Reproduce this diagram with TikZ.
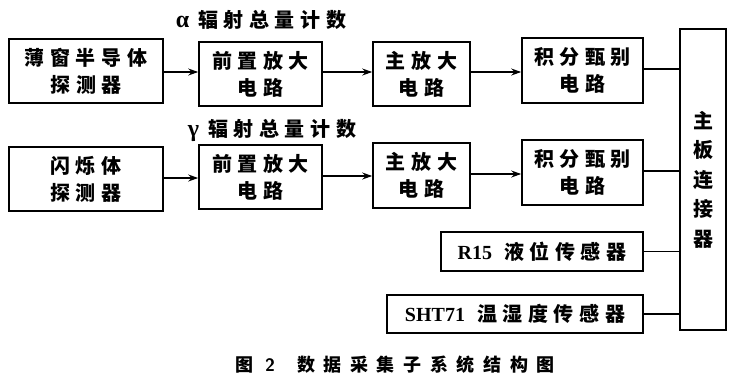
\documentclass[tikz,border=0pt]{standalone}
\usepackage{fontspec}
\setmainfont{Liberation Serif}
\newfontfamily\cjk{Noto Sans CJK SC}[LetterSpace=28]
\newfontfamily\capfont{Noto Sans CJK SC}[LetterSpace=48]
\usetikzlibrary{arrows.meta}

\tikzset{
    blk/.style={draw, line width=1.6pt, inner sep=0pt, align=center,
        font=\cjk\bfseries\fontsize{20}{27}\selectfont},
    lbl/.style={inner sep=0pt, font=\cjk\bfseries\fontsize{20}{22}\selectfont},
    sig/.style={line width=1.4pt, -{Stealth[length=10pt, width=7pt]}},
    bus/.style={line width=1.4pt}
}

\begin{document}
\begin{tikzpicture}[x=1pt, y=-1pt]
    \useasboundingbox (0,0) rectangle (739,384);

    % alpha channel
    \node[lbl] (alab) at (261,20) {{\rmfamily\bfseries\fontsize{24}{24}\selectfont α}\hspace{9pt}辐射总量计数};
    \node[blk, minimum width=154pt, minimum height=64pt] (det1) at (86,71) {薄窗半导体\\探测器};
    \node[blk, minimum width=123pt, minimum height=64pt] (pre1) at (260.5,74) {前置放大\\电路};
    \node[blk, minimum width=97pt, minimum height=64pt] (amp1) at (421.5,74) {主放大\\电路};
    \node[blk, minimum width=121pt, minimum height=65pt] (dis1) at (582.5,70.5) {积分甄别\\电路};

    % gamma channel
    \node[lbl] (glab) at (272,130) {{\rmfamily\bfseries\fontsize{24}{24}\selectfont γ}\hspace{9pt}辐射总量计数};
    \node[blk, minimum width=154pt, minimum height=64pt] (det2) at (86,179) {闪烁体\\探测器};
    \node[blk, minimum width=123pt, minimum height=64pt] (pre2) at (260.5,177) {前置放大\\电路};
    \node[blk, minimum width=97pt, minimum height=65pt] (amp2) at (421.5,175.5) {主放大\\电路};
    \node[blk, minimum width=121pt, minimum height=65pt] (dis2) at (582.5,172.5) {积分甄别\\电路};

    % sensors and connector
    \node[blk, minimum width=202pt, minimum height=39pt] (lvl) at (542,251.5) {{\rmfamily\bfseries R15}\hspace{12pt}液位传感器};
    \node[blk, minimum width=256pt, minimum height=38pt] (hum) at (515,314) {{\rmfamily\bfseries SHT71}\hspace{12pt}温湿度传感器};
    \node[blk, minimum width=46pt, minimum height=301pt, font=\cjk\bfseries\fontsize{20}{29.5}\selectfont] (conn) at (703,179.5) {主\\板\\连\\接\\器};

    % signal flow
    \draw[sig] (det1.east |- 0,72) -- (pre1.west |- 0,72);
    \draw[sig] (pre1.east |- 0,72) -- (amp1.west |- 0,72);
    \draw[sig] (amp1.east |- 0,72) -- (dis1.west |- 0,72);
    \draw[sig] (det2.east |- 0,178) -- (pre2.west |- 0,178);
    \draw[sig] (pre2.east |- 0,176) -- (amp2.west |- 0,176);
    \draw[sig] (amp2.east |- 0,174) -- (dis2.west |- 0,174);

    % to connector
    \draw[bus] (dis1.east |- 0,69) -- (conn.west |- 0,69);
    \draw[bus] (dis2.east |- 0,171) -- (conn.west |- 0,171);
    \draw[bus] (lvl.east) -- (conn.west |- lvl.east);
    \draw[bus] (hum.east) -- (conn.west |- hum.east);

    % caption
    \node[lbl, font=\capfont\bfseries\fontsize{18}{20}\selectfont] (cap) at (395,365) {图\hspace{12pt}{\sffamily 2}\hspace{22pt}数据采集子系统结构图};
\end{tikzpicture}
\end{document}
